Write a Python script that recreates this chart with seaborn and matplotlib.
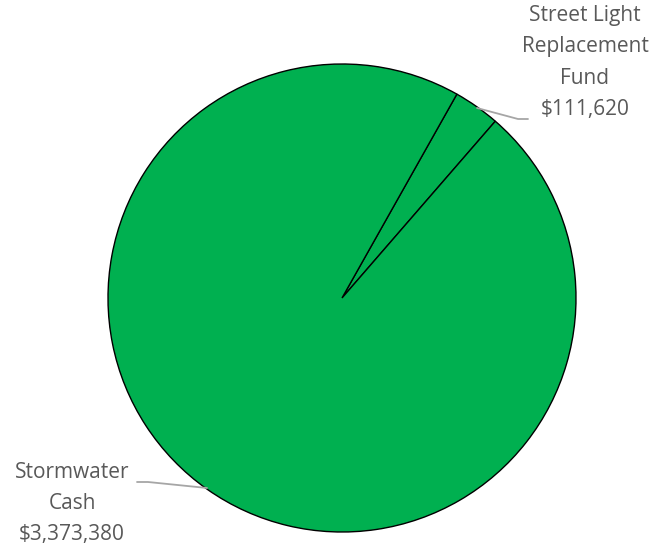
import matplotlib
matplotlib.use("Agg")
import matplotlib.pyplot as plt
import seaborn as sns

categories = ["Street Light\nReplacement\nFund", "Stormwater\nCash"]
values = [111620, 3373380]
value_labels = ["$111,620", "$3,373,380"]

sns.set_theme(style="white")
plt.rcParams['font.family'] = ['Open Sans', 'DejaVu Sans']

fig = plt.figure(figsize=(6.67, 5.46), dpi=100)
ax = fig.add_axes([0, 0, 1, 1])

H = 546
cx, cy, r = 342, H - 298, 234
ax.pie(values, colors=["#00B050", "#00B050"], startangle=60.6, counterclock=False,
       center=(cx, cy), radius=r, frame=True,
       wedgeprops=dict(edgecolor="black", linewidth=1.0))
ax.set_xlim(0, 667)
ax.set_ylim(0, 546)
ax.set_aspect('equal')
ax.axis('off')

grey = "#595959"
fs = 15
ax.text(585, H - 62.5, f"{categories[0]}\n{value_labels[0]}", ha="center", va="center",
        fontsize=fs, color=grey, linespacing=1.65)
ax.text(72, H - 503.5, f"{categories[1]}\n{value_labels[1]}", ha="center", va="center",
        fontsize=fs, color=grey, linespacing=1.6)

ax.plot([477, 518, 528], [H - 108, H - 119, H - 119], color="#A6A6A6", lw=1.3)
ax.plot([137, 148, 207], [H - 482, H - 482, H - 488], color="#A6A6A6", lw=1.3)

fig.savefig("out.png", dpi=100)
